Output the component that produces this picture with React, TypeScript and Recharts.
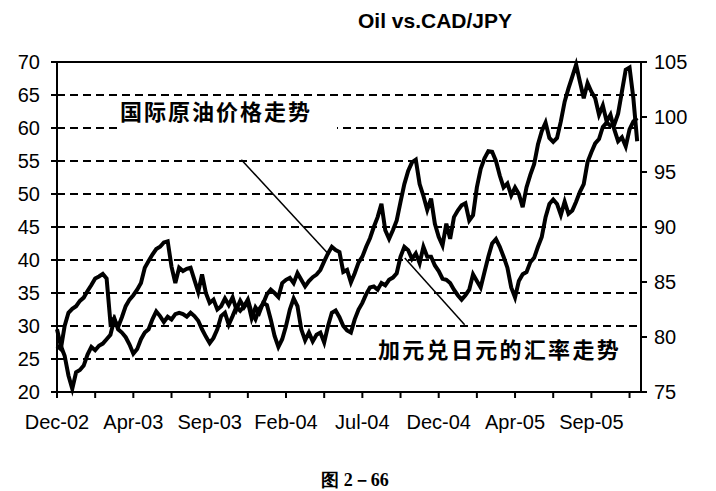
import React from "react";
import { LineChart, Line, XAxis, YAxis, CartesianGrid, ReferenceLine } from "recharts";

// weekly points, Dec-02 .. Dec-05
const OIL = [
  27, 26.5, 30, 32, 32.6, 33, 33.8, 34.3, 35.3, 36.2,
  37.2, 37.5, 37.9, 37.2, 30.5, 31.2, 29.5, 29, 28.3, 27.2,
  25.8, 26.5, 28, 29, 29.5, 31, 32.2, 31.5, 30.6, 31.4,
  31, 31.8, 32, 31.8, 31.4, 32, 31.5, 30.8, 29.5, 28.4,
  27.4, 28.2, 29.5, 31.5, 32, 30.2, 31.5, 32.9, 32.3, 33,
  34, 32, 31, 32.6, 33.4, 34.8, 35.5, 35, 34.4, 36.5,
  37, 37.3, 36.5, 38, 37, 36, 36.8, 37.4, 37.8, 38.5,
  39.8, 41, 42, 41.5, 41.2, 38.2, 38.5, 36.6, 38, 39.6,
  40.5, 42, 43.3, 45, 46.5, 48.5, 44.5, 43.2, 44.5, 46,
  48.8, 51.5, 53.5, 54.8, 55.2, 51.5, 49.7, 47.6, 49.3, 45.5,
  43.5, 42.2, 45.5, 43.2, 46.5, 47.5, 48.3, 48.6, 46, 46.8,
  51, 53.8, 55.4, 56.5, 56.4, 55, 52.8, 51, 51.6, 49.8,
  51, 50, 48, 51, 52.9, 54.5, 57.5, 59.5, 60.8, 58.5,
  57.9, 58.5, 61, 64, 66, 67.8, 69.6, 67, 64.5, 66.8,
  65.5, 64.5, 62, 63.4, 61, 62, 59.8, 58, 58.6, 57.2,
  59.8, 61, 61.5,
];

const CADJPY = [
  80.7, 79.2, 78.3, 76.5, 75.3, 76.8, 77.0, 77.4, 78.4, 79.1,
  78.8, 79.2, 79.4, 79.8, 80.2, 81.6, 80.9, 81.8, 82.8, 83.4,
  83.8, 84.3, 84.9, 86.3, 86.9, 87.5, 88.0, 88.2, 88.6, 88.7,
  86.4, 84.9, 86.3, 86.0, 86.2, 86.3, 85.2, 84.1, 85.7, 84.0,
  83.1, 83.4, 82.5, 82.8, 83.5, 82.9, 83.6, 82.5, 83.3, 82.7,
  83.2, 81.7, 82.7, 82.2, 83.1, 82.9, 81.6, 80.1, 79.1, 79.8,
  81.0, 82.5, 83.5, 82.8, 80.7, 79.7, 80.4, 79.6, 80.2, 80.4,
  79.5, 81.0, 82.2, 82.4, 81.8, 81.0, 80.6, 80.4, 81.6, 82.5,
  83.1, 83.9, 84.5, 84.6, 84.3, 84.9, 84.7, 85.2, 85.4, 85.8,
  87.3, 88.2, 87.9, 87.1, 87.6, 86.7, 88.2, 87.3, 87.3, 86.5,
  86.0, 85.3, 85.2, 84.9, 84.3, 83.8, 83.4, 83.8, 84.3, 85.7,
  85.1, 84.5, 85.9, 87.3, 88.5, 88.9, 88.2, 87.3, 86.3, 84.5,
  83.6, 85.1, 85.7, 85.9, 86.8, 87.2, 88.2, 89.1, 90.9, 92.1,
  92.5, 92.1, 91.1, 92.3, 91.2, 91.5, 92.3, 93.2, 93.9, 95.9,
  96.8, 97.6, 98.0, 99.1, 99.5, 99.2, 99.3, 100.3, 102.3, 104.3,
  104.5, 101.7, 97.8,
];

const X_LABELS = ["Dec-02", "Apr-03", "Sep-03", "Feb-04", "Jul-04", "Dec-04", "Apr-05", "Sep-05"];
const X_TICKS = [0, 10, 20, 30, 40, 50, 60, 70, 80, 90, 100, 110, 120, 130, 140, 150];
const LEFT_TICKS = [20, 25, 30, 35, 40, 45, 50, 55, 60, 65, 70];
const RIGHT_TICKS = [75, 80, 85, 90, 95, 100, 105];

const data = OIL.map((v, i) => ({ i, oil: v, cad: CADJPY[i] }));

const tickStyle = { fill: "#000", fontSize: 20, fontFamily: "'Liberation Sans', Arial, sans-serif" };
const cjk = "'Noto Sans CJK SC', sans-serif";

export default function App() {
  return (
    <div style={{ position: "absolute", left: 0, top: 0, width: 716, height: 491, background: "#fff" }}>
      <LineChart width={716} height={491} data={data} margin={{ top: 62, right: 0, bottom: 59, left: 0 }}>
        <CartesianGrid yAxisId="left" vertical={false} stroke="#000" strokeWidth={2} strokeDasharray="8 5" />
        <XAxis
          dataKey="i"
          type="number"
          domain={[0, 153]}
          ticks={X_TICKS}
          interval={0}
          height={40}
          tickSize={6}
          tickMargin={17}
          tick={tickStyle}
          tickFormatter={(v: number) => (v % 20 === 0 ? X_LABELS[v / 20] : "")}
          axisLine={{ stroke: "#000", strokeWidth: 2 }}
          tickLine={{ stroke: "#000", strokeWidth: 2 }}
        />
        <YAxis
          yAxisId="left"
          domain={[20, 70]}
          ticks={LEFT_TICKS}
          interval={0}
          width={57}
          tickSize={6}
          tickMargin={11}
          tick={tickStyle}
          axisLine={{ stroke: "#000", strokeWidth: 2 }}
          tickLine={{ stroke: "#000", strokeWidth: 2 }}
        />
        <YAxis
          yAxisId="right"
          orientation="right"
          domain={[75, 105]}
          ticks={RIGHT_TICKS}
          interval={0}
          width={75}
          tickSize={6}
          tickMargin={7}
          tick={tickStyle}
          axisLine={{ stroke: "#000", strokeWidth: 2 }}
          tickLine={{ stroke: "#000", strokeWidth: 2 }}
        />
        <ReferenceLine yAxisId="left" y={70} stroke="#000" strokeWidth={2} />
        <ReferenceLine
          yAxisId="left"
          segment={[{ x: 48.3, y: 55.2 }, { x: 71.3, y: 40.8 }]}
          stroke="#000"
          strokeWidth={1.5}
        />
        <ReferenceLine
          yAxisId="left"
          segment={[{ x: 91.1, y: 40.3 }, { x: 106.8, y: 30.2 }]}
          stroke="#000"
          strokeWidth={1.5}
        />
        <Line yAxisId="left" dataKey="oil" stroke="#000" strokeWidth={4} strokeLinejoin="miter" dot={false} isAnimationActive={false} />
        <Line yAxisId="right" dataKey="cad" stroke="#000" strokeWidth={4} strokeLinejoin="miter" dot={false} isAnimationActive={false} />
      </LineChart>

      <div style={{ position: "absolute", left: 335, top: 8, width: 200, height: 26, lineHeight: "26px", textAlign: "center", fontFamily: "'Liberation Sans', Arial, sans-serif", fontWeight: 700, fontSize: 21 }}>
        Oil vs.CAD/JPY
      </div>

      <div style={{ position: "absolute", left: 117, top: 99, width: 220, height: 34, background: "#fff" }} />
      <div style={{ position: "absolute", left: 120, top: 96, height: 28, lineHeight: "28px", fontFamily: cjk, fontWeight: 700, fontSize: 22, letterSpacing: 2, whiteSpace: "nowrap" }}>
        国际原油价格走势
      </div>

      <div style={{ position: "absolute", left: 376, top: 334, width: 264, height: 32, background: "#fff" }} />
      <div style={{ position: "absolute", left: 378, top: 334, height: 28, lineHeight: "28px", fontFamily: cjk, fontWeight: 700, fontSize: 22, letterSpacing: 2.3, whiteSpace: "nowrap" }}>
        加元兑日元的汇率走势
      </div>

      <div style={{ position: "absolute", left: 300, top: 468, width: 110, height: 24, lineHeight: "24px", textAlign: "center", fontFamily: "'Liberation Serif', serif", fontWeight: 700, fontSize: 18, whiteSpace: "nowrap" }}>
        图 2－66
      </div>
    </div>
  );
}
